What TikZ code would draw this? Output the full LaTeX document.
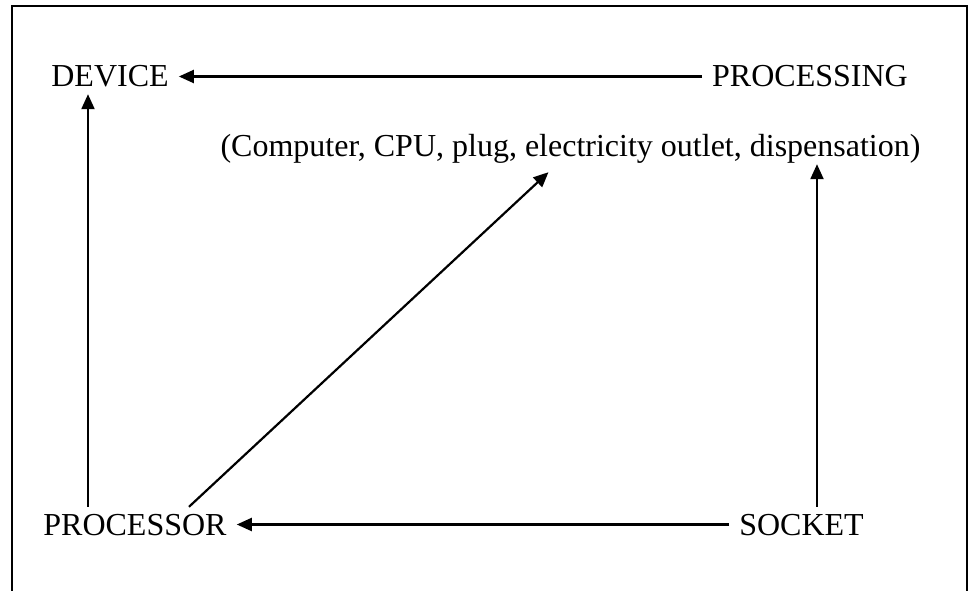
\documentclass[tikz,border=0pt]{standalone}
\usepackage{fontspec}
\setmainfont{Liberation Serif}
\usetikzlibrary{arrows.meta}

\begin{document}
\begin{tikzpicture}[x=1pt, y=-1pt,
    lbl/.style={font=\fontsize{32}{38}\selectfont, inner xsep=10pt, inner ysep=7pt, text height=21pt, text depth=0pt},
    arr/.style={-{Triangle[length=15pt,width=13pt]}, line width=2.2pt}]
    \useasboundingbox (0,0) rectangle (972,591);
    \draw[line width=2pt] (12,600) -- (12,6) -- (967,6) -- (967,600);
    \node[lbl] (dev) at (110,76.5) {DEVICE};
    \node[lbl] (prcg) at (810,76.5) {PROCESSING};
    \node[lbl] (parts) at (570.5,146.5) {(Computer, CPU, plug, electricity outlet, dispensation)};
    \node[lbl] (prcr) at (135,524.5) {PROCESSOR};
    \node[lbl] (sock) at (801.5,524.5) {SOCKET};
    \draw[arr] (prcg) -- (dev);
    \draw[arr] (sock) -- (prcr);
    \draw[arr] ([xshift=-47pt]prcr.north) -- ([xshift=-47pt]prcr.north |- dev.south);
    \draw[arr] ([xshift=54pt]prcr.north) -- ([xshift=-22pt,yshift=-8pt]parts.south);
    \draw[arr] ([xshift=15.5pt]sock.north) -- ([xshift=15.5pt]sock.north |- parts.south);
\end{tikzpicture}
\end{document}
